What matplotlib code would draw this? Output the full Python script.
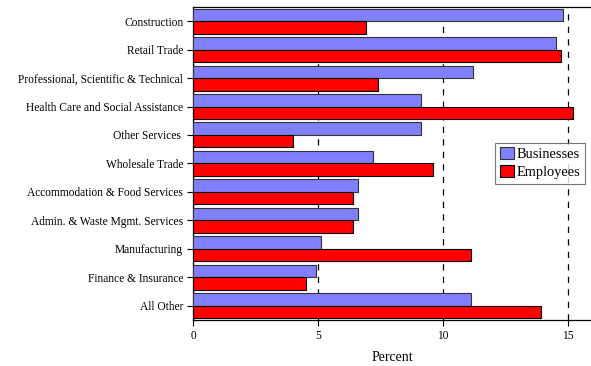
import matplotlib
matplotlib.use("Agg")
import matplotlib.pyplot as plt
import numpy as np

categories = [
    "Construction",
    "Retail Trade",
    "Professional, Scientific & Technical",
    "Health Care and Social Assistance",
    "Other Services ",
    "Wholesale Trade",
    "Accommodation & Food Services",
    "Admin. & Waste Mgmt. Services",
    "Manufacturing",
    "Finance & Insurance",
    "All Other",
]
businesses = [14.8, 14.5, 11.2, 9.1, 9.1, 7.2, 6.6, 6.6, 5.1, 4.9, 11.1]
employees = [6.9, 14.7, 7.4, 15.2, 4.0, 9.6, 6.4, 6.4, 11.1, 4.5, 13.9]
x_ticks = [0, 5, 10, 15]

plt.rcParams["font.family"] = ["Liberation Serif", "DejaVu Serif"]

fig = plt.figure(figsize=(5.91, 3.66), dpi=100)
ax = fig.add_axes([0.3266, 0.126, 0.6734, 0.855])

y = np.arange(len(categories))
h = 0.44

ax.barh(y - h / 2, businesses, height=h, color="#8080FF",
        edgecolor="#333333", linewidth=0.8, label="Businesses", zorder=3)
ax.barh(y + h / 2, employees, height=h, color="#FF0000",
        edgecolor="#000000", linewidth=0.8, label="Employees", zorder=3)

ax.set_yticks(y)
ax.set_yticklabels(categories, fontsize=8.3)
ax.set_ylim(len(categories) - 0.5, -0.5)

ax.set_xlim(0, 15.92)
ax.set_xticks(x_ticks)
ax.set_xticklabels([str(t) for t in x_ticks], fontsize=8.3)
ax.set_xlabel("Percent", fontsize=10, labelpad=7)

ax.xaxis.grid(True, color="black", linestyle=(0, (5, 5)), linewidth=0.9, zorder=0)
ax.set_axisbelow(True)

ax.tick_params(axis="both", direction="out", length=4, width=0.8, pad=3)
ax.spines["right"].set_visible(False)
for s in ["left", "top", "bottom"]:
    ax.spines[s].set_linewidth(0.9)

leg = ax.legend(loc="upper right", bbox_to_anchor=(0.985, 0.566), fontsize=10.4,
                frameon=True, fancybox=False, edgecolor="#555555",
                handlelength=1.0, handleheight=0.9, handletextpad=0.2,
                borderpad=0.3, labelspacing=0.3, borderaxespad=0)
leg.get_frame().set_linewidth(0.8)

plt.savefig("out.png", dpi=100)
plt.close()
